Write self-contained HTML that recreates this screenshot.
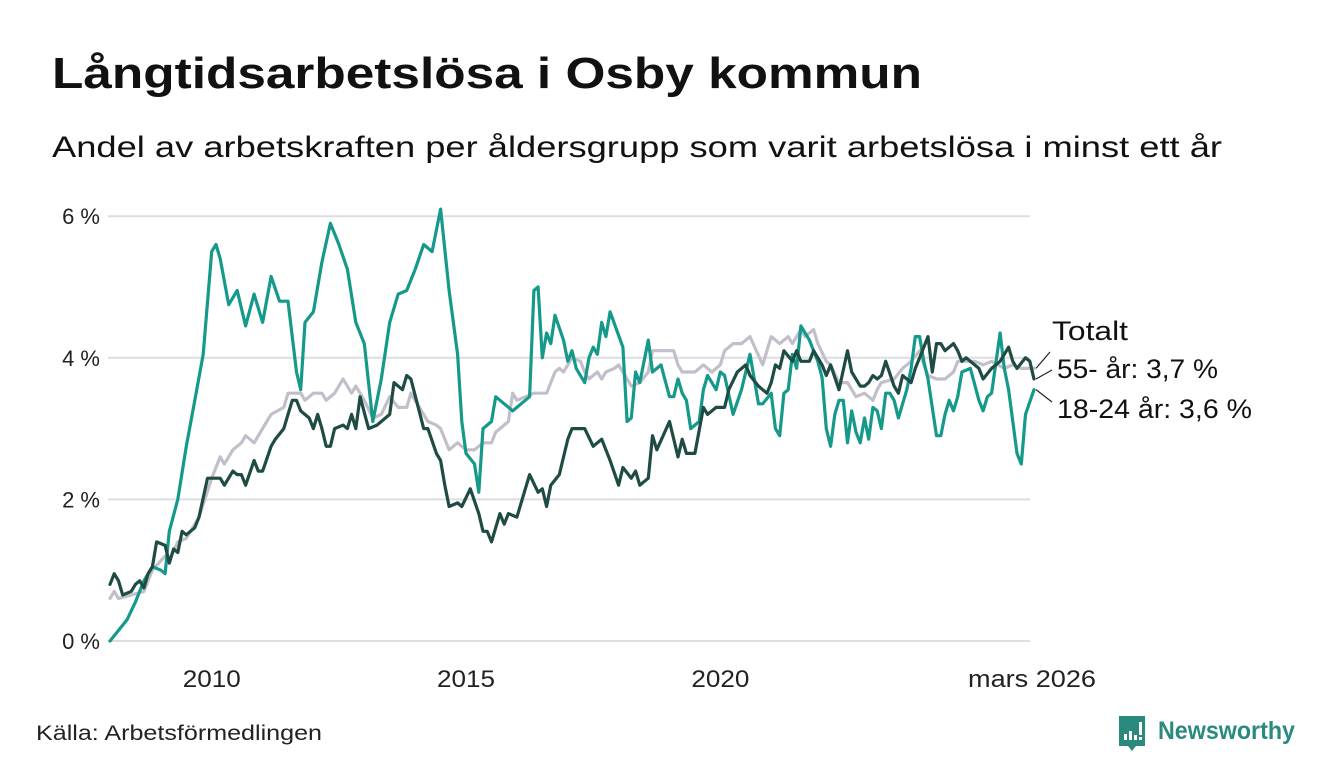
<!DOCTYPE html>
<html><head><meta charset="utf-8"><style>
html,body{margin:0;padding:0;background:#fff;}
svg{display:block;font-family:"Liberation Sans",DejaVu Sans,sans-serif;}
</style></head><body>
<svg id="chart" width="1340" height="780" viewBox="0 0 1340 780" xmlns="http://www.w3.org/2000/svg">
<text x="52" y="88" font-size="44" font-weight="bold" fill="#111" textLength="870" lengthAdjust="spacingAndGlyphs">Långtidsarbetslösa i Osby kommun</text>
<text x="52" y="157" font-size="30" fill="#111" textLength="1170" lengthAdjust="spacingAndGlyphs">Andel av arbetskraften per åldersgrupp som varit arbetslösa i minst ett år</text>
<g id="grid"></g>
<g id="series"></g>
<g id="labels"></g>
<text x="36" y="740" font-size="21" fill="#222" textLength="286" lengthAdjust="spacingAndGlyphs">Källa: Arbetsförmedlingen</text>
<g>
<path d="M1119 716 h26 v30 h-9 l-4 5 l-4 -5 h-9 z" fill="#2a8a7e"/>
<rect x="1124" y="734" width="3" height="6" fill="#fff"/><rect x="1129" y="731" width="3" height="9" fill="#fff"/><rect x="1134" y="735" width="3" height="5" fill="#fff"/><rect x="1139" y="722" width="3" height="13" fill="#fff"/><rect x="1139" y="737" width="3" height="3" fill="#fff"/>
<text x="1158" y="739" font-size="25" font-weight="bold" fill="#2a8a7e" textLength="137" lengthAdjust="spacingAndGlyphs">Newsworthy</text>
</g>
</svg>
<script>
const yTicks = [0, 2, 4, 6];
const yTickLabels = ["0 %", "2 %", "4 %", "6 %"];
const xTickMonths = [24, 84, 144, 218];
const xTickLabels = ["2010", "2015", "2020", "mars 2026"];
const totalMonths = [0,1,2,5,8,10,13,14,16,18,21,24,26,27,29,31,32,34,37,38,41,42,45,46,48,50,51,53,55,57,58,60,62,64,66,68,70,71,73,75,77,78,80,82,84,86,88,90,91,94,95,96,100,103,105,106,107,109,111,112,113,115,116,117,119,120,121,123,125,127,128,133,134,135,138,140,141,142,144,145,147,149,151,154,156,158,160,161,163,164,166,167,169,170,172,174,176,178,180,181,182,185,187,189,191,192,193,195,197,199,200,204,206,208,211,213,215,218];
const totalValues = [.6,.7,.6,.65,.7,1.0,1.2,1.15,1.4,1.45,1.75,2.3,2.6,2.5,2.7,2.8,2.9,2.8,3.1,3.2,3.3,3.5,3.5,3.4,3.5,3.5,3.4,3.5,3.7,3.5,3.6,3.4,3.15,3.2,3.45,3.3,3.3,3.5,3.3,3.1,3.05,3.0,2.7,2.8,2.7,2.7,2.8,2.8,2.95,3.1,3.5,3.4,3.5,3.5,3.8,3.85,3.8,4.0,3.95,3.8,3.7,3.8,3.7,3.8,3.85,3.9,3.8,3.6,3.65,3.8,4.1,4.1,3.9,3.8,3.8,3.9,3.85,3.8,3.9,4.1,4.2,4.2,4.3,3.9,4.3,4.2,4.3,4.2,4.4,4.3,4.4,4.2,3.95,3.9,3.65,3.65,3.45,3.5,3.4,3.55,3.65,3.7,3.85,3.95,4.1,3.9,3.75,3.7,3.7,3.8,3.95,3.95,3.9,3.95,3.85,3.9,3.85,3.85];
const youthMonths = [0,2,4,6,8,10,12,13,14,16,18,20,22,24,25,26,28,30,32,34,36,38,40,42,44,45,46,48,50,52,54,56,58,60,62,64,66,68,70,72,74,76,78,80,82,83,84,86,87,88,90,91,93,95,97,99,100,101,102,103,104,105,107,108,109,110,112,113,114,115,116,117,118,121,122,123,124,125,127,128,130,132,133,134,135,136,137,139,140,141,143,144,145,147,149,151,153,154,156,157,158,159,160,161,162,163,165,167,168,169,170,171,172,173,174,175,176,177,178,179,180,181,182,183,184,185,186,188,189,190,191,192,193,195,196,197,198,199,200,201,203,205,206,207,208,210,211,212,214,215,216,218];
const youthValues = [0,.15,.3,.55,.85,1.05,1.0,.95,1.55,2.0,2.75,3.4,4.05,5.5,5.6,5.4,4.75,4.95,4.45,4.9,4.5,5.15,4.8,4.8,3.8,3.55,4.5,4.65,5.35,5.9,5.6,5.25,4.5,4.2,3.1,3.7,4.5,4.9,4.95,5.25,5.6,5.5,6.1,4.95,4.05,3.1,2.65,2.5,2.1,3.0,3.1,3.45,3.35,3.25,3.35,3.45,4.95,5.0,4.0,4.35,4.2,4.6,4.25,3.95,4.1,3.85,3.65,4.0,4.15,4.05,4.5,4.3,4.65,4.15,3.1,3.15,3.8,3.65,4.25,3.8,3.9,3.45,3.45,3.7,3.5,3.4,3.0,3.1,3.55,3.75,3.55,3.8,3.75,3.2,3.55,4.05,3.35,3.35,3.5,3.0,2.9,3.5,3.55,4.05,3.85,4.45,4.25,3.95,3.72,3.0,2.75,3.2,3.4,3.4,2.8,3.25,2.95,2.8,3.15,2.85,3.3,3.25,3.0,3.5,3.5,3.4,3.15,3.55,3.85,4.3,4.3,3.95,3.7,2.9,2.9,3.2,3.4,3.25,3.45,3.8,3.85,3.4,3.25,3.45,3.5,4.35,3.85,3.55,2.65,2.5,3.2,3.55];
const seniorMonths = [0,1,2,3,5,6,7,8,9,10,11,13,14,15,16,17,18,20,21,23,26,27,29,30,31,32,34,35,36,38,39,41,42,43,44,45,47,48,49,50,51,52,53,55,56,57,58,59,61,63,64,66,67,69,70,71,74,75,77,78,79,80,82,83,85,87,88,89,90,92,93,94,96,99,101,102,103,104,106,108,109,112,114,116,118,120,121,123,124,125,127,128,129,132,134,135,136,138,140,141,143,145,146,148,150,151,153,154,155,156,157,158,159,161,162,163,165,166,168,169,170,172,174,175,177,178,179,180,181,182,183,185,186,187,189,190,191,193,194,195,196,197,199,200,201,202,203,205,206,208,210,212,213,214,216,217,218];
const seniorValues = [.8,.95,.85,.65,.7,.8,.85,.75,.95,1.05,1.4,1.35,1.1,1.3,1.25,1.55,1.5,1.6,1.75,2.3,2.3,2.2,2.4,2.35,2.35,2.2,2.55,2.4,2.4,2.75,2.85,3.0,3.2,3.4,3.4,3.25,3.15,3.0,3.2,3.0,2.75,2.75,3.0,3.05,3.0,3.2,3.0,3.45,3.0,3.05,3.1,3.2,3.65,3.55,3.75,3.7,3.0,3.0,2.65,2.55,2.2,1.9,1.95,1.9,2.15,1.8,1.55,1.55,1.4,1.8,1.65,1.8,1.75,2.35,2.1,2.15,1.9,2.2,2.35,2.85,3.0,3.0,2.75,2.85,2.55,2.2,2.45,2.3,2.4,2.2,2.3,2.9,2.7,3.1,2.6,2.85,2.65,2.65,3.3,3.2,3.3,3.3,3.55,3.8,3.9,3.75,3.6,3.55,3.5,3.65,3.9,3.85,4.1,3.95,4.1,3.95,3.95,4.1,3.9,3.75,3.9,3.55,4.1,3.8,3.6,3.6,3.65,3.75,3.7,3.75,3.95,3.6,3.5,3.75,3.65,3.85,4.0,4.3,3.8,4.2,4.2,4.1,4.2,4.1,3.95,4.0,3.95,3.85,3.7,3.85,3.95,4.15,3.95,3.85,4.0,3.95,3.7];

const NS = "http://www.w3.org/2000/svg";
const x0 = 110, x1 = 1034, m1 = 218;
const yBase = 641, yPerPct = 70.8;
function xScale(m) { return x0 + (x1 - x0) * m / m1; }
function yScale(v) { return yBase - v * yPerPct; }
function mk(tag, attrs, parent) { const e = document.createElementNS(NS, tag); for (const k in attrs) e.setAttribute(k, attrs[k]); parent.appendChild(e); return e; }

const grid = document.getElementById('grid');
yTicks.forEach((t, i) => {
  const ln = mk('line', {x1: 108, x2: 1030, y1: yScale(t), y2: yScale(t), stroke: '#dddde4', 'stroke-width': 2}, grid);
  
  
  const tx = mk('text', {x: 100, y: yScale(t) + 8, 'text-anchor': 'end', 'font-size': 22, fill: '#222'}, grid);
  tx.textContent = yTickLabels[i];
  
  
});
xTickMonths.forEach((m, i) => {
  const w = i === 3 ? 128 : 58;
  const tx = mk('text', {x: i === 3 ? xScale(m) - 2 : xScale(m), y: 687, 'text-anchor': 'middle', 'font-size': 24, fill: '#222', textLength: w, lengthAdjust: 'spacingAndGlyphs'}, grid);
  tx.textContent = xTickLabels[i];
  
  
});

const series = document.getElementById('series');
function drawLine(months, values, color, name) {
  const d = months.map((m, i) => (i ? 'L' : 'M') + xScale(m).toFixed(1) + ' ' + yScale(values[i]).toFixed(1)).join(' ');
  const p = mk('path', {d: d, fill: 'none', stroke: color, 'stroke-width': 3.2, 'stroke-linejoin': 'round', 'stroke-linecap': 'round'}, series);
  
  
}
drawLine(totalMonths, totalValues, '#c2bfca', 'line-totalt');
drawLine(youthMonths, youthValues, '#15998a', 'line-18-24');
drawLine(seniorMonths, seniorValues, '#1e4c44', 'line-55-plus');

const labels = document.getElementById('labels');
const lab = [
  {t: 'Totalt', y: 340, w: 76, x: 1052, lx1: 1036, ly1: yScale(totalValues[totalValues.length - 1]), lx2: 1050, ly2: 352, n: 'label-totalt'},
  {t: '55- år: 3,7 %', y: 378, w: 161, x: 1057, lx1: 1036, ly1: yScale(seniorValues[seniorValues.length - 1]), lx2: 1052, ly2: 370, n: 'label-55-plus'},
  {t: '18-24 år: 3,6 %', y: 418, w: 195, x: 1057, lx1: 1036, ly1: yScale(youthValues[youthValues.length - 1]), lx2: 1052, ly2: 402, n: 'label-18-24'}
];
lab.forEach(l => {
  const ln = mk('line', {x1: l.lx1, y1: l.ly1, x2: l.lx2, y2: l.ly2, stroke: '#222', 'stroke-width': 1.2}, labels);
  
  
  const tx = mk('text', {x: l.x, y: l.y, 'font-size': 27, fill: '#111', textLength: l.w, lengthAdjust: 'spacingAndGlyphs'}, labels);
  tx.textContent = l.t;
  
  
});
</script>
</body></html>
